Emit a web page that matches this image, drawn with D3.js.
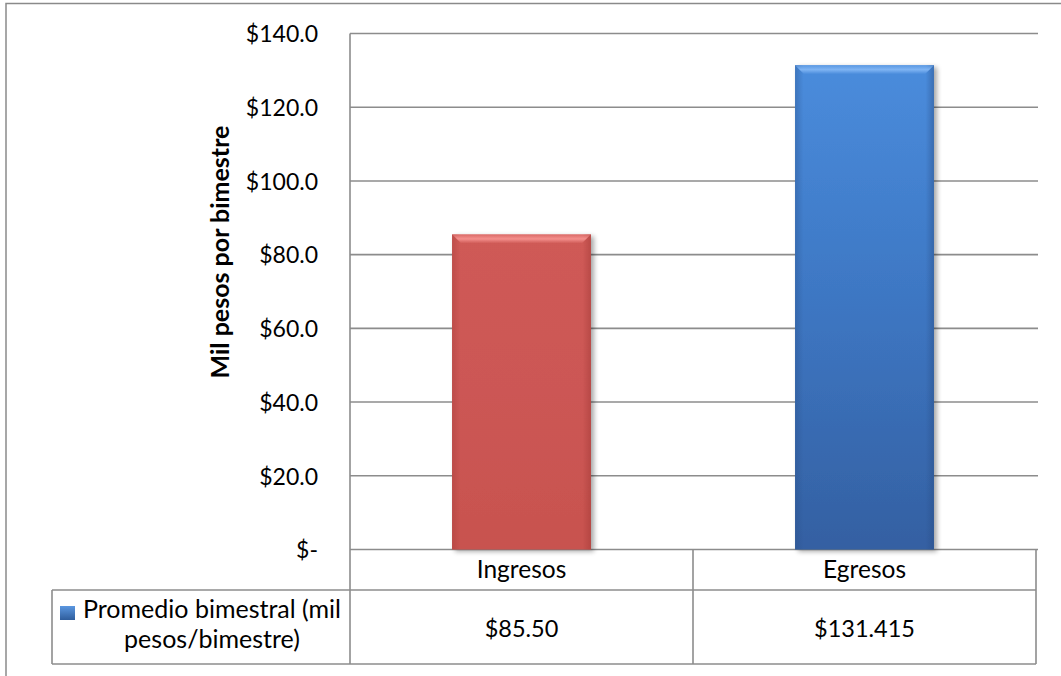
<!DOCTYPE html>
<html>
<head>
<meta charset="utf-8">
<script src="https://cdn.jsdelivr.net/npm/d3@7"></script>
<style>
  body { margin: 0; background: #fff; }
  svg text { font-family: Lato, "Open Sans", sans-serif; fill: #000; }
</style>
</head>
<body>
<div id="chart"></div>
<script>
// data
const categories = ["Ingresos", "Egresos"];
const values = [85.50, 131.415];
const valueLabels = ["$85.50", "$131.415"];
const seriesName = ["Promedio bimestral (mil", "pesos/bimestre)"];
const yTicks = [0, 20, 40, 60, 80, 100, 120, 140];
const axisTitle = "Mil pesos por bimestre";

const W = 1061, H = 676;
const plot = {left: 350, right: 1036, top: 33.5, bottom: 549.5};
const tableRows = [549.5, 590, 664];
const legendLeft = 52;
const gridColor = "#8c8c8c";

const svg = d3.select("#chart").append("svg")
    .attr("width", W)
    .attr("height", H);

const defs = svg.append("defs");

// bar colours (vertical gradient, darker at the edges)
const barColors = [
    {top: "#cf5a57", mid: "#cc5754", bottom: "#c8524f", hi: "#f48f8c", edge: "#9e3734"},
    {top: "#4a8cdc", mid: "#3d76c2", bottom: "#3460a2", hi: "#7fb4f3", edge: "#274b82"}
];
barColors.forEach(function(c, i) {
    const g = defs.append("linearGradient").attr("id", "bar" + i)
        .attr("x1", 0).attr("y1", 0).attr("x2", 0).attr("y2", 1);
    g.append("stop").attr("offset", "0%").attr("stop-color", c.top);
    g.append("stop").attr("offset", "50%").attr("stop-color", c.mid);
    g.append("stop").attr("offset", "100%").attr("stop-color", c.bottom);

    const e = defs.append("linearGradient").attr("id", "edge" + i)
        .attr("x1", 0).attr("y1", 0).attr("x2", 1).attr("y2", 0);
    e.append("stop").attr("offset", "0%").attr("stop-color", c.edge).attr("stop-opacity", 0.35);
    e.append("stop").attr("offset", "6%").attr("stop-color", c.edge).attr("stop-opacity", 0);
    e.append("stop").attr("offset", "94%").attr("stop-color", c.edge).attr("stop-opacity", 0);
    e.append("stop").attr("offset", "100%").attr("stop-color", c.edge).attr("stop-opacity", 0.45);

    const t = defs.append("linearGradient").attr("id", "hi" + i)
        .attr("x1", 0).attr("y1", 0).attr("x2", 0).attr("y2", 1);
    t.append("stop").attr("offset", "0%").attr("stop-color", c.hi).attr("stop-opacity", 0.3);
    t.append("stop").attr("offset", "50%").attr("stop-color", c.hi).attr("stop-opacity", 1);
    t.append("stop").attr("offset", "100%").attr("stop-color", c.hi).attr("stop-opacity", 0);
});

const shadow = defs.append("filter").attr("id", "shadow")
    .attr("x", "-10%").attr("y", "-10%").attr("width", "130%").attr("height", "130%");
shadow.append("feGaussianBlur").attr("in", "SourceAlpha").attr("stdDeviation", 2.5);
shadow.append("feOffset").attr("dx", 3).attr("dy", 2).attr("result", "blur");
shadow.append("feComponentTransfer").append("feFuncA").attr("type", "linear").attr("slope", 0.35);
const merge = shadow.append("feMerge");
merge.append("feMergeNode");
merge.append("feMergeNode").attr("in", "SourceGraphic");

// outer chart border (runs off the right and bottom of the picture)
svg.append("rect")
    .attr("x", 6).attr("y", 3.5)
    .attr("width", W + 20).attr("height", H + 20)
    .attr("fill", "none")
    .attr("stroke", "#8a8a8a")
    .attr("stroke-width", 1.5);

const x = d3.scaleBand()
    .domain(categories)
    .range([plot.left, plot.right])
    .paddingInner(0)
    .paddingOuter(0);

const y = d3.scaleLinear()
    .domain([0, 140])
    .range([plot.bottom, plot.top]);

// gridlines
svg.append("g")
    .selectAll("line")
    .data(yTicks)
    .enter()
    .append("line")
    .attr("x1", plot.left)
    .attr("x2", plot.right + 2)
    .attr("y1", d => y(d))
    .attr("y2", d => y(d))
    .attr("stroke", gridColor)
    .attr("stroke-width", 1.6);

// y axis labels
const yAxis = d3.axisLeft(y)
    .tickValues(yTicks)
    .tickSize(0)
    .tickPadding(0)
    .tickFormat(d => d === 0 ? "$-" : "$" + d.toFixed(1));

const yg = svg.append("g")
    .attr("transform", "translate(" + (plot.left - 32) + ",0)")
    .call(yAxis);
yg.select(".domain").remove();
yg.selectAll("text")
    .attr("font-family", "Lato, sans-serif")
    .attr("font-size", 23)
    .attr("fill", "#000")
    .attr("dy", "0.36em");

// axis title
svg.append("text")
    .attr("transform", "translate(229,252) rotate(-90)")
    .attr("text-anchor", "middle")
    .attr("font-size", 25)
    .attr("font-weight", "bold")
    .text(axisTitle);

// bars
const barW = x.bandwidth() * 0.405;
const bars = svg.append("g")
    .selectAll("g")
    .data(values)
    .enter()
    .append("g");

bars.append("rect")
    .attr("x", (d, i) => x(categories[i]) + (x.bandwidth() - barW) / 2)
    .attr("y", d => y(d))
    .attr("width", barW)
    .attr("height", d => y(0) - y(d))
    .attr("fill", (d, i) => "url(#bar" + i + ")")
    .attr("filter", "url(#shadow)");

bars.append("rect")
    .attr("x", (d, i) => x(categories[i]) + (x.bandwidth() - barW) / 2)
    .attr("y", d => y(d))
    .attr("width", barW)
    .attr("height", d => y(0) - y(d))
    .attr("fill", (d, i) => "url(#edge" + i + ")");

// bevel highlight along the top edge
bars.append("path")
    .attr("d", function(d, i) {
        const x0 = x(categories[i]) + (x.bandwidth() - barW) / 2;
        const x1 = x0 + barW;
        const y0 = y(d);
        const b = 9;
        return "M" + x0 + "," + y0 + "L" + x1 + "," + y0 +
            "L" + (x1 - b) + "," + (y0 + b) + "L" + (x0 + b) + "," + (y0 + b) + "Z";
    })
    .attr("fill", (d, i) => "url(#hi" + i + ")");

// data table below the plot
const table = svg.append("g")
    .attr("stroke", gridColor)
    .attr("stroke-width", 1.6)
    .attr("fill", "none");

table.append("line")
    .attr("x1", plot.left).attr("x2", plot.left)
    .attr("y1", plot.top).attr("y2", tableRows[2]);
table.append("line")
    .attr("x1", plot.right).attr("x2", plot.right)
    .attr("y1", tableRows[0]).attr("y2", tableRows[2]);
table.append("line")
    .attr("x1", x(categories[1])).attr("x2", x(categories[1]))
    .attr("y1", tableRows[0]).attr("y2", tableRows[2]);
table.append("line")
    .attr("x1", legendLeft).attr("x2", legendLeft)
    .attr("y1", tableRows[1]).attr("y2", tableRows[2]);
table.append("line")
    .attr("x1", legendLeft).attr("x2", plot.right)
    .attr("y1", tableRows[1]).attr("y2", tableRows[1]);
table.append("line")
    .attr("x1", legendLeft).attr("x2", plot.right)
    .attr("y1", tableRows[2]).attr("y2", tableRows[2]);

// category row
svg.append("g")
    .selectAll("text")
    .data(categories)
    .enter()
    .append("text")
    .attr("x", d => x(d) + x.bandwidth() / 2)
    .attr("y", 578)
    .attr("text-anchor", "middle")
    .attr("font-size", 24.5)
    .text(d => d);

// value row
svg.append("g")
    .selectAll("text")
    .data(valueLabels)
    .enter()
    .append("text")
    .attr("x", (d, i) => x(categories[i]) + x.bandwidth() / 2)
    .attr("y", 637)
    .attr("text-anchor", "middle")
    .attr("font-size", 23.5)
    .text(d => d);

// legend key + series name
const keyGrad = defs.append("linearGradient").attr("id", "key")
    .attr("x1", 0).attr("y1", 0).attr("x2", 0).attr("y2", 1);
keyGrad.append("stop").attr("offset", "0%").attr("stop-color", "#5b97e0");
keyGrad.append("stop").attr("offset", "100%").attr("stop-color", "#2f5d9c");

svg.append("rect")
    .attr("x", 60).attr("y", 606)
    .attr("width", 15).attr("height", 14)
    .attr("fill", "url(#key)");

svg.append("text")
    .attr("x", 212)
    .attr("y", 618)
    .attr("text-anchor", "middle")
    .attr("font-size", 25)
    .text(seriesName[0]);

svg.append("text")
    .attr("x", 212)
    .attr("y", 648)
    .attr("text-anchor", "middle")
    .attr("font-size", 25)
    .text(seriesName[1]);
</script>
</body>
</html>
